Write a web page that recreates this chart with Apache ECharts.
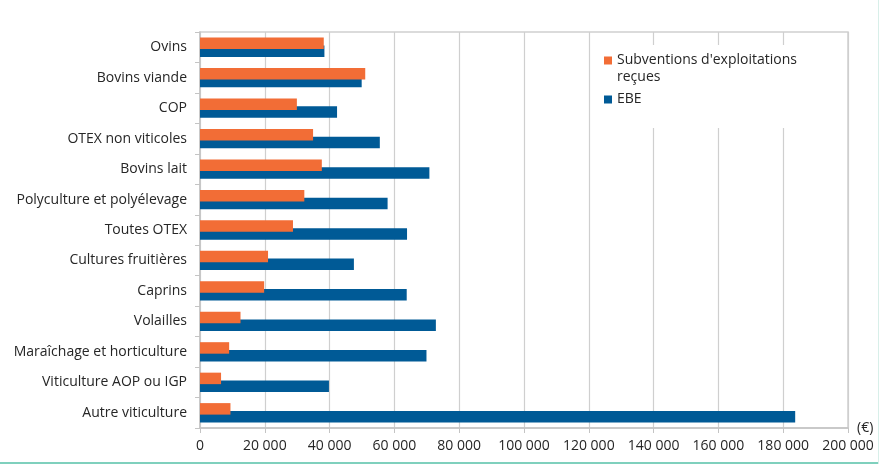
<!DOCTYPE html>
<html>
<head>
<meta charset="utf-8">
<script src="https://cdn.jsdelivr.net/npm/echarts@6/dist/echarts.min.js"></script>
<style>
  html, body { margin: 0; padding: 0; background: #fff; }
  #chart { width: 879px; height: 464px; }
</style>
</head>
<body>
<div id="chart"></div>
<script>
// Categories, listed from top to bottom
const categories = [
  'Ovins', 'Bovins viande', 'COP', 'OTEX non viticoles', 'Bovins lait',
  'Polyculture et polyélevage', 'Toutes OTEX', 'Cultures fruitières', 'Caprins',
  'Volailles', 'Maraîchage et horticulture', 'Viticulture AOP ou IGP', 'Autre viticulture'
];
// Subventions d'exploitations reçues (€)
const subventions = [38200, 51000, 29900, 34900, 37600, 32200, 28700, 21000, 19800, 12500, 9000, 6500, 9400];
// EBE (€)
const ebe = [38400, 49900, 42300, 55500, 70800, 57900, 63900, 47500, 63800, 72800, 69900, 39800, 183700];

const SUBV = "Subventions d'exploitations reçues";
const FONT = 'Open Sans';
const FS = 14;
const TXT = '#262626';
const LH = 17;

const fmt = v => String(v).replace(/\B(?=(\d{3})+(?!\d))/g, '\u00a0');

// Wrap the long legend name onto two lines; a blank leading line keeps the
// marker level with the first line of text.
const legendFmt = name => name === SUBV
  ? ' \n' + name.replace(' reçues', '\nreçues')
  : name;

const chart = echarts.init(document.getElementById('chart'), null, { renderer: 'canvas' });
chart.setOption({
  animation: false,
  textStyle: { fontFamily: FONT },
  grid: {
    left: 200, right: 31, top: 32, bottom: 36,
    show: true, borderColor: '#cfcfcf', borderWidth: 1.5, backgroundColor: 'transparent'
  },
  legend: {
    orient: 'vertical',
    left: 604, top: 35,
    itemWidth: 8, itemHeight: 8, itemGap: 5,
    icon: 'rect',
    padding: 0,
    formatter: legendFmt,
    textStyle: { fontFamily: FONT, fontSize: FS, color: TXT, lineHeight: LH },
    data: [SUBV, 'EBE']
  },
  xAxis: {
    type: 'value', min: 0, max: 200000, interval: 20000,
    axisLine: { show: true, lineStyle: { color: '#c4c4c4', width: 1.5 } },
    axisTick: { show: true, length: 5, lineStyle: { color: '#c4c4c4' } },
    splitLine: { show: true, lineStyle: { color: '#cfcfcf', width: 1.2 } },
    axisLabel: { fontFamily: FONT, fontSize: FS, color: TXT, margin: 11, formatter: fmt },
    name: '(€)', nameLocation: 'end', nameGap: 9,
    nameTextStyle: { fontFamily: FONT, fontSize: FS, color: TXT, verticalAlign: 'middle', padding: [0, 0, 3, 0] }
  },
  yAxis: {
    type: 'category', data: categories, inverse: true,
    axisLine: { show: true, lineStyle: { color: '#c4c4c4', width: 1.5 } },
    axisTick: { show: true, length: 5, lineStyle: { color: '#c4c4c4' } },
    axisLabel: { fontFamily: FONT, fontSize: FS, color: TXT, margin: 13 }
  },
  series: [
    {
      name: SUBV, type: 'bar', data: subventions,
      barWidth: 11.5, barGap: '-32%', z: 3,
      itemStyle: { color: '#F26D36' }
    },
    {
      name: 'EBE', type: 'bar', data: ebe,
      barWidth: 11.5, z: 2,
      itemStyle: { color: '#005A96' }
    }
  ],
  graphic: [
    // white panel behind the legend, above the grid lines
    { type: 'rect', z: 1, shape: { x: 597, y: 45, width: 238, height: 83 }, style: { fill: '#fff' }, silent: true },
    { type: 'rect', z: 1, shape: { x: 0, y: 462, width: 879, height: 2 }, style: { fill: '#7fd0bd' }, silent: true },
    { type: 'rect', z: 1, shape: { x: 878, y: 0, width: 1, height: 464 }, style: { fill: '#d8efe9' }, silent: true }
  ]
});
</script>
</body>
</html>
